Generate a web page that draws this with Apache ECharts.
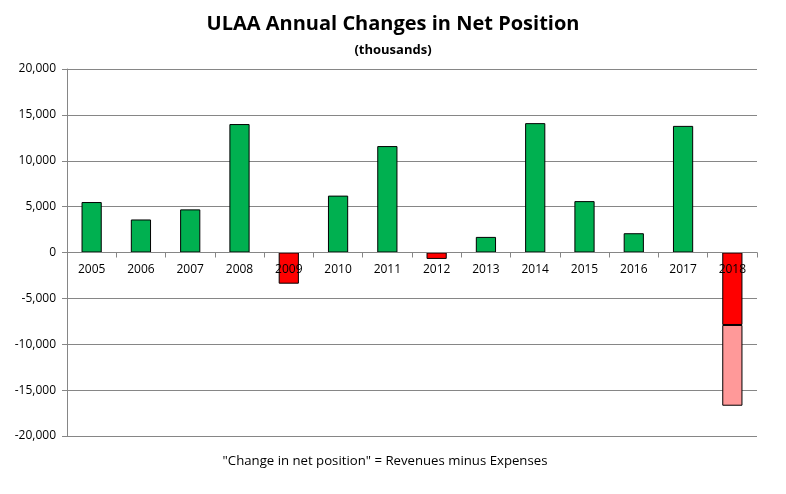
<!DOCTYPE html>
<html><head><meta charset="utf-8">
<script src="https://cdn.jsdelivr.net/npm/echarts@6/dist/echarts.min.js"></script>
<style>html,body{margin:0;padding:0;background:#fff}#c{width:786px;height:494px}</style>
</head><body><div id="c"></div>
<script>
const years = ['2005','2006','2007','2008','2009','2010','2011','2012','2013','2014','2015','2016','2017','2018'];
const changeValues = [5500, 3600, 4700, 14000, -3400, 6200, 11600, -700, 1700, 14100, 5600, 2100, 13800, -7900];
const extraValues = [null, null, null, null, null, null, null, null, null, null, null, null, null, -8800];
const yTicks = { min: -20000, max: 20000, interval: 5000 };
const titleText = 'ULAA Annual Changes in Net Position';
const subtitleText = '(thousands)';
const footerText = '"Change in net position" = Revenues minus Expenses';

const GREEN = '#00B050', RED = '#FF0000', PINK = '#FF9999';
const font = 'Open Sans, Noto Sans, sans-serif';

const gridTop = 69, gridBottom = 58, H = 494;
const plotH = H - gridTop - gridBottom;
const zeroOffset = plotH * (0 - yTicks.min) / (yTicks.max - yTicks.min);

const chart = echarts.init(document.getElementById('c'), null, {renderer: 'canvas'});
chart.setOption({
  animation: false,
  backgroundColor: '#fff',
  title: [
    { text: titleText, left: 'center', top: 9, textStyle: { fontFamily: font, fontSize: 20, fontWeight: 'bold', color: '#000' } },
    { text: subtitleText, left: 'center', top: 39, textStyle: { fontFamily: font, fontSize: 13, fontWeight: 'bold', color: '#000' } },
    { text: footerText, left: 380, textAlign: 'center', top: 450, textStyle: { fontFamily: font, fontSize: 13.2, fontWeight: 'normal', color: '#000' } }
  ],
  grid: { left: 67, right: 29, top: gridTop, bottom: gridBottom, containLabel: false },
  xAxis: {
    type: 'category', data: years, position: 'bottom', offset: -zeroOffset, z: 10,
    axisLine: { onZero: false, lineStyle: { color: '#868686', width: 1 } },
    axisTick: { show: true, length: 5, inside: false, lineStyle: { color: '#868686' } },
    axisLabel: { margin: 11, fontFamily: font, fontSize: 12, color: '#000' }
  },
  yAxis: {
    type: 'value', min: yTicks.min, max: yTicks.max, interval: yTicks.interval,
    axisLine: { show: true, lineStyle: { color: '#868686' } },
    axisTick: { show: true, length: 5, lineStyle: { color: '#868686' } },
    axisLabel: { margin: 11, fontFamily: font, fontSize: 12, color: '#000',
      formatter: v => v.toLocaleString('en-US') },
    splitLine: { show: true, lineStyle: { color: '#868686', width: 1 } }
  },
  series: [
    {
      type: 'bar', stack: 'net', barWidth: '41%',
      data: changeValues.map(v => ({ value: v, itemStyle: { color: v < 0 ? RED : GREEN } })),
      itemStyle: { borderColor: '#000', borderWidth: 1 }
    },
    {
      type: 'bar', stack: 'net', barWidth: '41%',
      data: extraValues,
      itemStyle: { color: PINK, borderColor: '#000', borderWidth: 1 }
    }
  ]
});
</script></body></html>
